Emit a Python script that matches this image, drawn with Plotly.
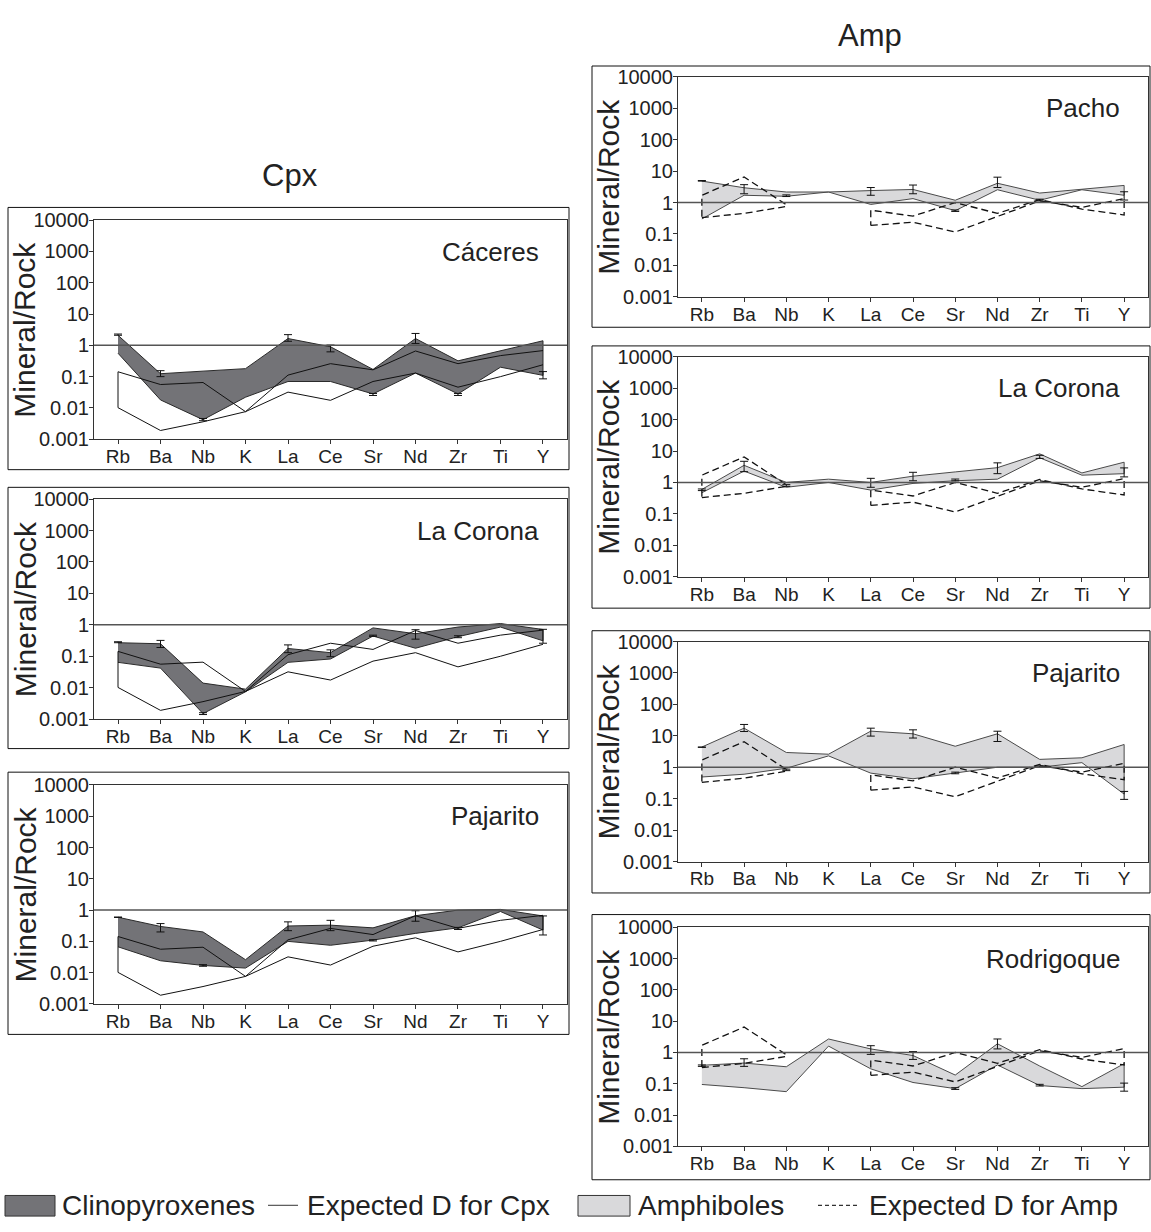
import plotly.graph_objects as go

# ---------------- data ----------------
CATS = ["Rb", "Ba", "Nb", "K", "La", "Ce", "Sr", "Nd", "Zr", "Ti", "Y"]
DECADES = [0.001, 0.01, 0.1, 1, 10, 100, 1000, 10000]
DECADE_LABELS = ["0.001", "0.01", "0.1", "1", "10", "100", "1000", "10000"]

# Expected D for Cpx (two bounding curves)
cpx_exp_a = [0.143, 0.056, 0.065, 0.0076, 0.112, 0.26, 0.165, 0.66, 0.26, 0.47, 0.68]
cpx_exp_b = [0.0102, 0.0019, 0.0036, 0.0076, 0.032, 0.0175, 0.07, 0.13, 0.046, 0.1, 0.24]

# Expected D for Amp (two bounding curves, no K value)
amp_exp_a = [1.7, 6.5, 0.85, None, 0.57, 0.37, 1.0, 0.45, 1.24, 0.62, 0.4]
amp_exp_b = [0.33, 0.45, 0.75, None, 0.186, 0.236, 0.115, 0.37, 1.13, 0.7, 1.33]

# Clinopyroxene ranges
caceres_hi = [2.1, 0.124, 0.15, 0.18, 1.65, 0.9, 0.17, 1.65, 0.32, 0.66, 1.4]
caceres_lo = [0.56, 0.018, 0.0042, 0.022, 0.07, 0.07, 0.028, 0.13, 0.028, 0.2, 0.11]
caceres_err_mid = [2.1, 0.124, 0.0042, None, 1.65, 0.85, 0.027, 1.6, 0.027, None, 0.11]
caceres_err_hi = [2.3, 0.155, 0.0046, None, 2.2, 1.02, 0.029, 2.4, 0.029, None, 0.145]
caceres_err_lo = [2.1, 0.1, 0.0039, None, 1.35, 0.62, 0.025, 1.15, 0.025, None, 0.085]

lacorona_cpx_hi = [0.27, 0.25, 0.014, 0.009, 0.177, 0.13, 0.8, 0.52, 0.85, 1.1, 0.71]
lacorona_cpx_lo = [0.064, 0.042, 0.0015, 0.0074, 0.064, 0.082, 0.44, 0.18, 0.42, 0.85, 0.31]
lacorona_cpx_err_mid = [0.27, 0.24, 0.0015, None, 0.16, 0.12, 0.45, 0.5, 0.42, None, 0.45]
lacorona_cpx_err_hi = [0.29, 0.32, 0.0016, None, 0.23, 0.16, 0.47, 0.7, 0.45, None, 0.72]
lacorona_cpx_err_lo = [0.27, 0.19, 0.0014, None, 0.13, 0.097, 0.43, 0.35, 0.39, None, 0.26]

pajarito_cpx_hi = [0.59, 0.3, 0.2, 0.026, 0.31, 0.33, 0.27, 0.66, 1.0, 1.05, 0.65]
pajarito_cpx_lo = [0.067, 0.024, 0.017, 0.014, 0.1, 0.075, 0.11, 0.18, 0.27, 0.9, 0.23]
pajarito_cpx_err_mid = [0.58, 0.27, 0.017, None, 0.3, 0.33, 0.108, 0.62, 0.26, None, 0.27]
pajarito_cpx_err_hi = [0.6, 0.37, 0.018, None, 0.42, 0.47, 0.113, 0.95, 0.28, None, 0.65]
pajarito_cpx_err_lo = [0.58, 0.2, 0.016, None, 0.22, 0.22, 0.103, 0.44, 0.24, None, 0.16]

# Amphibole ranges
pacho_hi = [4.8, 2.95, 2.16, 2.16, 2.4, 2.6, 1.18, 4.1, 2.0, 2.6, 3.5]
pacho_lo = [0.3, 1.7, 1.58, 2.16, 0.87, 1.33, 0.55, 2.55, 1.18, 2.55, 1.7]
pacho_err_mid = [4.8, 2.7, 1.65, None, 2.2, 2.6, 0.55, 4.2, 1.2, None, 2.1]
pacho_err_hi = [5.0, 3.7, 1.75, None, 3.0, 3.6, 0.58, 6.4, 1.28, None, 2.2]
pacho_err_lo = [4.8, 1.9, 1.55, None, 1.7, 1.9, 0.52, 3.0, 1.12, None, 1.2]

lacorona_amp_hi = [0.6, 3.5, 1.0, 1.27, 1.0, 1.58, 2.16, 2.95, 8.1, 2.0, 4.4]
lacorona_amp_lo = [0.47, 2.3, 0.7, 1.0, 0.57, 0.93, 1.13, 1.27, 6.1, 1.7, 1.9]
lacorona_amp_err_mid = [0.58, 3.2, 0.8, None, 0.95, 1.5, 1.2, 3.0, 6.5, None, 2.8]
lacorona_amp_err_hi = [0.62, 4.7, 0.85, None, 1.35, 2.1, 1.28, 4.2, 7.3, None, 2.9]
lacorona_amp_err_lo = [0.55, 2.2, 0.75, None, 0.7, 1.13, 1.12, 1.9, 5.8, None, 1.5]

pajarito_amp_hi = [4.4, 17.5, 2.95, 2.6, 14.1, 11.6, 4.66, 11.6, 1.78, 2.0, 5.3]
pajarito_amp_lo = [0.49, 0.6, 0.93, 2.3, 0.65, 0.43, 0.65, 1.0, 1.0, 1.4, 0.14]
pajarito_amp_err_mid = [4.3, 18.0, 0.82, None, 14.0, 12.0, 0.66, 10.5, 1.05, None, 0.14]
pajarito_amp_err_hi = [4.4, 23.0, 0.87, None, 17.5, 15.5, 0.7, 14.0, 1.1, None, 0.17]
pajarito_amp_err_lo = [4.3, 13.7, 0.78, None, 9.8, 8.5, 0.62, 6.6, 1.0, None, 0.095]

rodrigoque_hi = [0.39, 0.46, 0.35, 2.7, 1.3, 0.8, 0.19, 1.9, 0.37, 0.081, 0.44]
rodrigoque_lo = [0.095, 0.075, 0.056, 1.6, 0.3, 0.11, 0.07, 0.4, 0.088, 0.07, 0.078]
rodrigoque_err_mid = [0.38, 0.46, None, None, 1.2, 0.8, 0.07, 1.85, 0.09, None, 0.08]
rodrigoque_err_hi = [0.4, 0.63, None, None, 1.65, 1.07, 0.075, 2.7, 0.096, None, 0.105]
rodrigoque_err_lo = [0.36, 0.36, None, None, 0.87, 0.6, 0.066, 1.3, 0.085, None, 0.058]

# ---------------- style / layout ----------------
W, H = 1151, 1232
FONT = "Liberation Sans, Arial, sans-serif"
CPX_FILL = "#737377"
AMP_FILL = "#d9d9db"
INK = "#222222"

LEFT_X = (94, 567)
RIGHT_X = (678, 1148)
panels = [
    ("Cáceres", "cpx", caceres_hi, caceres_lo, caceres_err_mid, caceres_err_hi, caceres_err_lo,
     LEFT_X, 213, 436, (8, 200, 569, 467)),
    ("La Corona", "cpx", lacorona_cpx_hi, lacorona_cpx_lo, lacorona_cpx_err_mid, lacorona_cpx_err_hi,
     lacorona_cpx_err_lo, LEFT_X, 497, 721, (8, 485, 569, 751)),
    ("Pajarito", "cpx", pajarito_cpx_hi, pajarito_cpx_lo, pajarito_cpx_err_mid, pajarito_cpx_err_hi,
     pajarito_cpx_err_lo, LEFT_X, 788, 1011, (8, 775, 569, 1042)),
    ("Pacho", "amp", pacho_hi, pacho_lo, pacho_err_mid, pacho_err_hi, pacho_err_lo,
     RIGHT_X, 67, 291, (592, 56, 1150, 322)),
    ("La Corona", "amp", lacorona_amp_hi, lacorona_amp_lo, lacorona_amp_err_mid, lacorona_amp_err_hi,
     lacorona_amp_err_lo, RIGHT_X, 352, 576, (592, 341, 1150, 608)),
    ("Pajarito", "amp", pajarito_amp_hi, pajarito_amp_lo, pajarito_amp_err_mid, pajarito_amp_err_hi,
     pajarito_amp_err_lo, RIGHT_X, 642, 866, (592, 631, 1150, 898)),
    ("Rodrigoque", "amp", rodrigoque_hi, rodrigoque_lo, rodrigoque_err_mid, rodrigoque_err_hi,
     rodrigoque_err_lo, RIGHT_X, 933, 1156, (592, 920, 1150, 1190)),
]


def px(x):
    return x / W


def py(y):
    return 1 - y / H


fig = go.Figure()
layout = dict(
    width=W, height=H, margin=dict(l=0, r=0, t=0, b=0),
    paper_bgcolor="white", plot_bgcolor="white", showlegend=False,
    font=dict(family=FONT, color=INK),
)
shapes = []
annotations = []

for i, (name, kind, hi, lo, emid, ehi, elo, xr, ytop, ybot, box) in enumerate(panels, start=1):
    xa = "x" if i == 1 else f"x{i}"
    ya = "y" if i == 1 else f"y{i}"
    xkey = "xaxis" if i == 1 else f"xaxis{i}"
    ykey = "yaxis" if i == 1 else f"yaxis{i}"

    layout[xkey] = dict(
        domain=[px(xr[0]), px(xr[1])], anchor=ya, type="category",
        categoryorder="array", categoryarray=CATS, range=[-0.565, 10.565],
        showline=True, mirror=True, linecolor="#333", linewidth=1,
        ticks="outside", ticklen=4, tickcolor="#333", showgrid=False, zeroline=False,
        ticklabelstandoff=-4,
        tickfont=dict(size=19, family=FONT, color=INK), fixedrange=True,
    )
    layout[ykey] = dict(
        domain=[py(ybot), py(ytop)], anchor=xa, type="log", range=[-3, 4],
        tickvals=DECADES, ticktext=DECADE_LABELS,
        showline=True, mirror=True, linecolor="#333", linewidth=1,
        ticks="outside", ticklen=4, tickcolor="#333", showgrid=False, zeroline=False,
        ticklabelstandoff=-4,
        tickfont=dict(size=20, family=FONT, color=INK), fixedrange=True,
    )

    fill = CPX_FILL if kind == "cpx" else AMP_FILL
    edge = "#2a2a2a" if kind == "cpx" else "#4a4a4a"

    # filled range band
    fig.add_trace(go.Scatter(
        x=CATS + CATS[::-1], y=hi + lo[::-1], xaxis=xa, yaxis=ya,
        mode="lines", fill="toself", fillcolor=fill,
        line=dict(color=edge, width=1), hoverinfo="skip",
    ))

    # expected D curves
    if kind == "cpx":
        ex = CATS[::-1] + CATS
        ey = cpx_exp_b[::-1] + cpx_exp_a
        fig.add_trace(go.Scatter(
            x=ex, y=ey, xaxis=xa, yaxis=ya, mode="lines",
            line=dict(color="#111", width=1), hoverinfo="skip",
        ))
    else:
        ex, ey = [], []
        segs = [(0, 2), (4, 10)]
        for s, e in segs:
            idx = list(range(s, e + 1))
            ex += [CATS[k] for k in idx] + [CATS[k] for k in idx[::-1]] + [CATS[s]]
            ey += [amp_exp_b[k] for k in idx] + [amp_exp_a[k] for k in idx[::-1]] + [amp_exp_b[s]]
            ex.append(None)
            ey.append(None)
        fig.add_trace(go.Scatter(
            x=ex, y=ey, xaxis=xa, yaxis=ya, mode="lines", connectgaps=False,
            line=dict(color="#111", width=1.3, dash="7px,4px"), hoverinfo="skip",
        ))

    # error bars
    ex_, ey_, up_, dn_ = [], [], [], []
    for c, m, h, l in zip(CATS, emid, ehi, elo):
        if m is None:
            continue
        ex_.append(c)
        ey_.append(m)
        up_.append(h - m)
        dn_.append(m - l)
    fig.add_trace(go.Scatter(
        x=ex_, y=ey_, xaxis=xa, yaxis=ya, mode="markers",
        marker=dict(size=1, color="rgba(0,0,0,0)"),
        error_y=dict(type="data", symmetric=False, array=up_, arrayminus=dn_,
                     color="#111", thickness=1, width=4),
        hoverinfo="skip",
    ))

    # reference line at 1
    shapes.append(dict(type="line", xref=f"{xa} domain", yref=ya, x0=0, x1=1, y0=1, y1=1,
                       line=dict(color="#555", width=1.5), layer="above"))
    # outer panel box
    shapes.append(dict(type="rect", xref="paper", yref="paper",
                       x0=px(box[0]), x1=px(box[2]), y0=py(box[3]), y1=py(box[1]),
                       line=dict(color="#111", width=1), fillcolor="rgba(0,0,0,0)", layer="below"))
    # panel label
    annotations.append(dict(text=name, xref="paper", yref="paper",
                            x=px(xr[1] - 26), y=py(ytop + 32), xanchor="right", yanchor="middle",
                            showarrow=False, font=dict(size=26, family=FONT, color=INK)))
    # y-axis title
    annotations.append(dict(text="Mineral/Rock", xref="paper", yref="paper",
                            x=px(box[0] + 17), y=py((ytop + ybot) / 2), xanchor="center",
                            yanchor="middle", textangle=-90, showarrow=False,
                            font=dict(size=30, family=FONT, color=INK)))

# column titles
annotations.append(dict(text="Cpx", xref="paper", yref="paper", x=px(290), y=py(167),
                        xanchor="center", yanchor="middle",
                        showarrow=False, font=dict(size=31, family=FONT, color=INK)))
annotations.append(dict(text="Amp", xref="paper", yref="paper", x=px(870), y=py(25),
                        xanchor="center", yanchor="middle",
                        showarrow=False, font=dict(size=31, family=FONT, color=INK)))

# legend (drawn in paper coordinates)
LEG_Y = 1216
shapes.append(dict(type="rect", xref="paper", yref="paper", x0=px(5), x1=px(55),
                   y0=py(1227), y1=py(1206), fillcolor=CPX_FILL, line=dict(color="#333", width=1)))
shapes.append(dict(type="line", xref="paper", yref="paper", x0=px(268), x1=px(298),
                   y0=py(LEG_Y), y1=py(LEG_Y), line=dict(color="#333", width=1)))
shapes.append(dict(type="rect", xref="paper", yref="paper", x0=px(578), x1=px(630),
                   y0=py(1227), y1=py(1206), fillcolor=AMP_FILL, line=dict(color="#333", width=1)))
shapes.append(dict(type="line", xref="paper", yref="paper", x0=px(818), x1=px(858),
                   y0=py(LEG_Y), y1=py(LEG_Y), line=dict(color="#333", width=1.3, dash="4px,3px")))
for txt, xl in [("Clinopyroxenes", 60), ("Expected D for Cpx", 305),
                ("Amphiboles", 636), ("Expected D for Amp", 867)]:
    annotations.append(dict(text=txt, xref="paper", yref="paper", x=px(xl), y=py(LEG_Y),
                            xanchor="left", yanchor="middle", showarrow=False,
                            font=dict(size=28, family=FONT, color=INK)))

layout["shapes"] = shapes
layout["annotations"] = annotations
fig.update_layout(**layout)
fig.write_html("out.html")
